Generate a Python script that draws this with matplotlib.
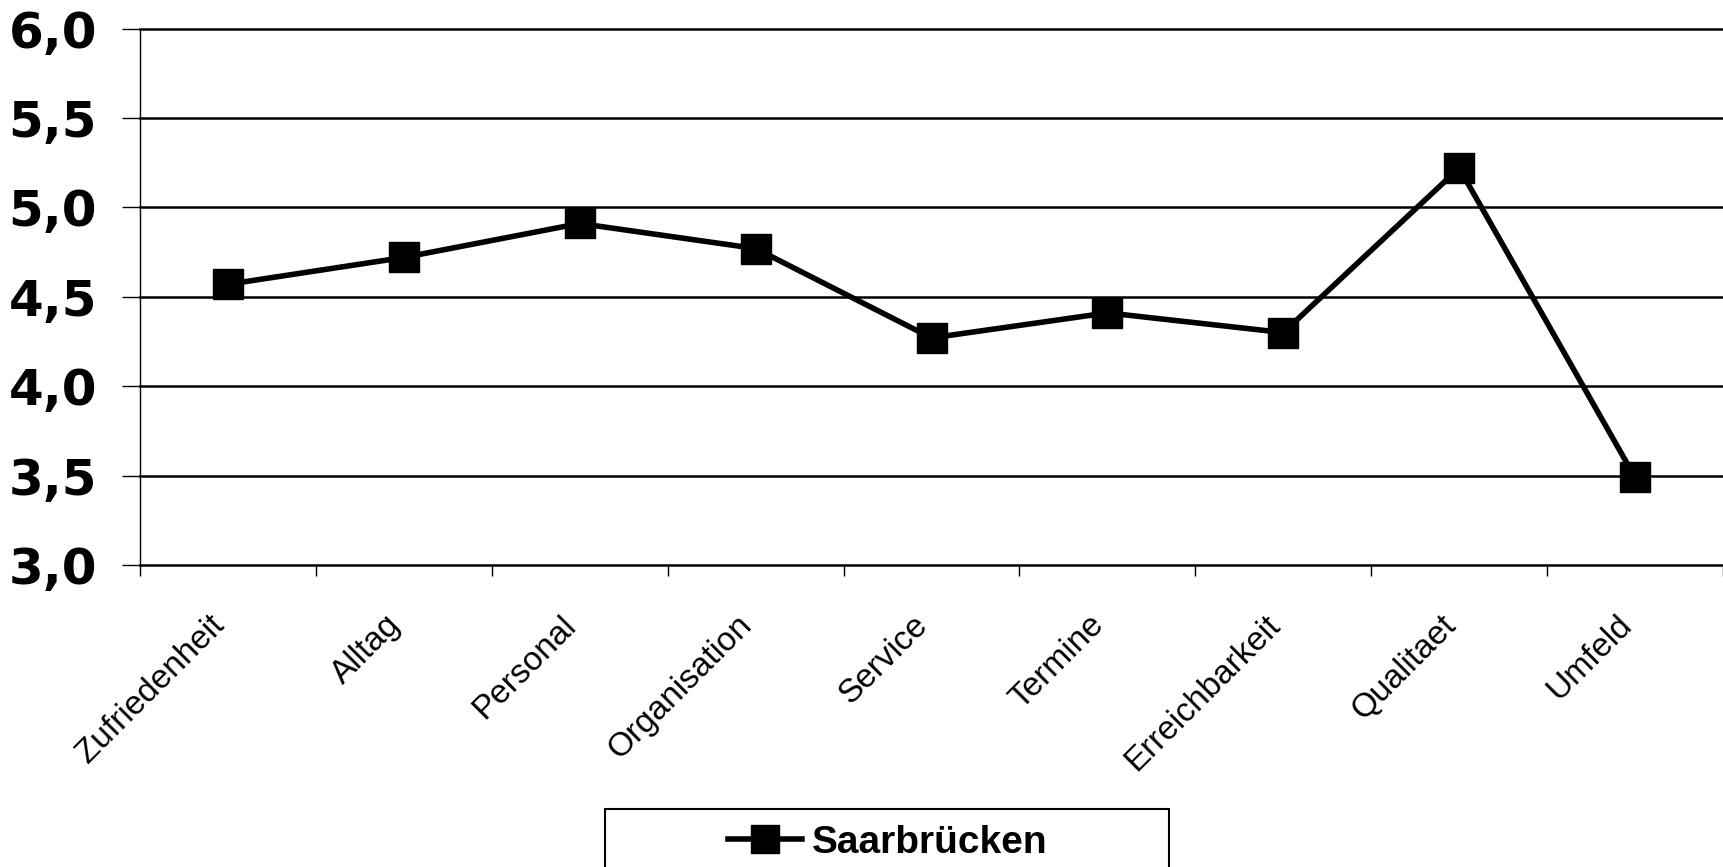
import matplotlib
matplotlib.use('Agg')
import matplotlib.pyplot as plt
from matplotlib.patches import Rectangle
import matplotlib.transforms as mtransforms
import numpy as np

categories = ['Zufriedenheit', 'Alltag', 'Personal', 'Organisation', 'Service',
              'Termine', 'Erreichbarkeit', 'Qualitaet', 'Umfeld']
saarbruecken = [4.57, 4.72, 4.91, 4.77, 4.27, 4.41, 4.30, 5.22, 3.49]
y_ticks = [3.0, 3.5, 4.0, 4.5, 5.0, 5.5, 6.0]
y_labels = ['3,0', '3,5', '4,0', '4,5', '5,0', '5,5', '6,0']

W, H = 1723, 867
fig = plt.figure(figsize=(W / 100, H / 100), dpi=100)
ax = fig.add_axes([140 / W, 1 - 565 / H, (W - 140) / W, (565 - 28.6) / H])

x = np.arange(len(categories))
ax.plot(x, saarbruecken, color='black', lw=4.0, marker='s', ms=21.5,
        label='Saarbrücken', zorder=3)

ax.set_ylim(3.0, 6.0)
ax.set_xlim(-0.5, -0.5 + (W - 140) / 177.5)

# y axis
ax.set_yticks(y_ticks)
ax.set_yticklabels(y_labels, fontsize=36, fontweight='bold', family='DejaVu Sans')
ax.tick_params(axis='y', length=13, width=1, pad=18, color='black')
for yv in y_ticks[1:]:
    ax.axhline(yv, color='black', lw=1.8, zorder=1, clip_on=False)

# x axis: ticks between categories, labels at centres
ax.set_xticks(np.arange(-0.5, len(categories), 1.0))
ax.set_xticklabels([])
ax.tick_params(axis='x', which='major', length=8, width=1, color='black')
ax.set_xticks(x, minor=True)
ax.set_xticklabels(categories, minor=True, rotation=45, ha='right', va='center',
                   rotation_mode='anchor', fontsize=24, family='Liberation Sans')
ax.tick_params(axis='x', which='minor', length=0, pad=40)
shift = mtransforms.ScaledTranslation(-8 / 100, 0, fig.dpi_scale_trans)
for lab in ax.get_xticklabels(minor=True):
    lab.set_transform(lab.get_transform() + shift)

ax.spines['top'].set_visible(False)
ax.spines['right'].set_visible(False)
ax.spines['left'].set_linewidth(1.0)
ax.spines['bottom'].set_linewidth(1.8)

# legend box (cropped at the bottom like the original)
fig.patches.append(Rectangle((605 / W, -0.05), (1169 - 605) / W, 0.05 + 1 - 809 / H,
                             transform=fig.transFigure, fill=False,
                             edgecolor='black', lw=1.5))
leg = fig.legend(loc='center left', bbox_to_anchor=(728 / W, 1 - 843 / H),
                 frameon=False, handlelength=1.9, handletextpad=0.25,
                 borderpad=0, borderaxespad=0, markerscale=0.95,
                 prop={'family': 'Liberation Sans', 'weight': 'bold', 'size': 28})

fig.savefig('out.png', dpi=100)
